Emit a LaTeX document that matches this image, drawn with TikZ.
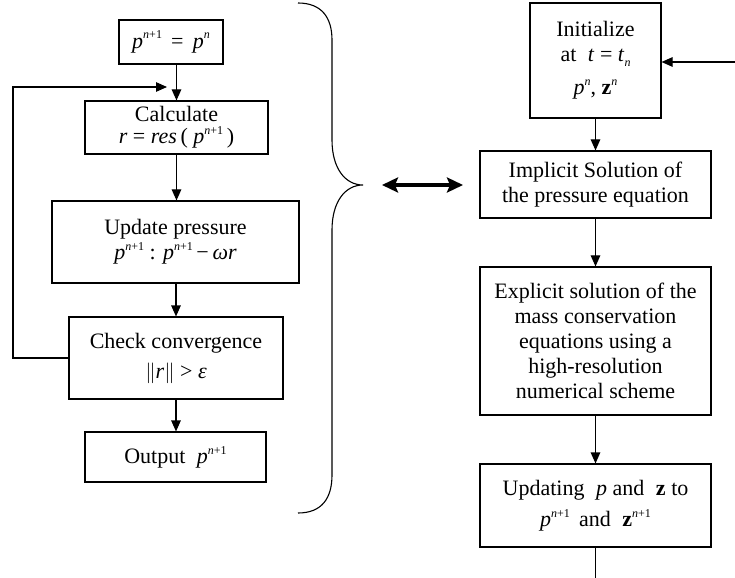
\documentclass[tikz,border=0pt]{standalone}
\usepackage{fontspec}
\setmainfont{Liberation Serif}
\usetikzlibrary{arrows.meta}
% italic variables, small raised/lowered indices
\newcommand\mi[1]{\textit{#1}}
\newcommand\upx[1]{\raisebox{0.42em}{\fontsize{12bp}{12bp}\selectfont #1}}
\newcommand\dnx[1]{\raisebox{-0.22em}{\fontsize{12bp}{12bp}\selectfont #1}}
\newcommand\pnp{\mi{p}\upx{\mi{n}+1}}

\begin{document}
\begin{tikzpicture}[x=1bp,y=-1bp,
  box/.style={draw, line width=1.1bp, align=center, inner sep=0pt,
              font=\fontsize{22bp}{25bp}\selectfont},
  flow/.style={line width=1.1bp, -{Triangle[length=11bp,width=9.5bp]}},
  plain/.style={line width=1.1bp},
  bigarrow/.style={line width=4bp,
     {Stealth[length=16bp,width=15bp,inset=3bp]}-{Stealth[length=16bp,width=15bp,inset=3bp]}}]
\useasboundingbox (0,0) rectangle (735,578);

% ---- iterative pressure loop ----
\node[box, minimum width=104bp, minimum height=44bp] (b1) at (171,42)
  {\pnp{} \,=\, \mi{p}\upx{\mi{n}}};
\node[box, minimum width=183bp, minimum height=53bp] (b2) at (176.5,127.5)
  {Calculate\\[-3bp] \mi{r} = \mi{res}\,( \pnp{}\,)};
\node[box, minimum width=247bp, minimum height=82bp] (b3) at (175.5,242)
  {Update pressure\\ \pnp{} : \pnp{}\,−\,\mi{ω}\mi{r}};
\node[box, minimum width=214bp, minimum height=82bp] (b4) at (176,358)
  {Check convergence\\[5bp] $\big\|$\mi{r}$\big\|$ > \mi{ε}};
\node[box, minimum width=181bp, minimum height=50bp] (b5) at (175.5,457)
  {Output \;\pnp};

\draw[flow] (b1.south -| b2.north) -- (b2.north);
\draw[flow] (b2.south) -- (b2.south |- b3.north);
\draw[flow] (b3.south -| b4.north) -- (b4.north);
\draw[flow] (b4.south) -- (b4.south |- b5.north);

\coordinate (fbL) at (13,87);
\coordinate (fbE) at (167,87);
\draw[flow] (b4.west) -| (fbL) -- (fbE);

% ---- brace grouping the loop ----
\draw[line width=1.1bp] (298,3) .. controls (322,3) and (332,18) .. (332,40)
  -- (332,140) .. controls (332,168) and (345,185) .. (363,185)
  .. controls (345,185) and (332,202) .. (332,230)
  -- (332,475) .. controls (332,498) and (322,513) .. (298,513);

\coordinate (dl) at (382,185);
\coordinate (dr) at (463,185);
\draw[bigarrow] (dl) -- (dr);

% ---- time step ----
\node[box, minimum width=131bp, minimum height=115bp] (rA) at (595.5,60.5)
  {Initialize\\ at \;\mi{t} = \mi{t}\dnx{\mi{n}}\\[8bp] \mi{p}\upx{\mi{n}}, \textbf{z}\upx{\mi{n}}};
\node[box, minimum width=231bp, minimum height=67bp] (rB) at (595.5,184.5)
  {Implicit Solution of\\ the pressure equation};
\node[box, minimum width=231bp, minimum height=148bp] (rC) at (595.5,341)
  {Explicit solution of the\\ mass conservation\\ equations using a\\ high-resolution\\ numerical scheme};
\node[box, minimum width=231bp, minimum height=83bp] (rD) at (595.5,505.5)
  {Updating \;\mi{p} and \;\textbf{z} to\\[6bp] \pnp{} \,and \;\textbf{z}\upx{\mi{n}+1}};

\coordinate (inR) at (735,62);
\coordinate (tail) at (595.5,578);
\draw[flow] (inR) -- (inR -| rA.east);
\draw[flow] (rA) -- (rB);
\draw[flow] (rB) -- (rC);
\draw[flow] (rC) -- (rD);
\draw[plain] (rD) -- (tail);
\end{tikzpicture}
\end{document}
